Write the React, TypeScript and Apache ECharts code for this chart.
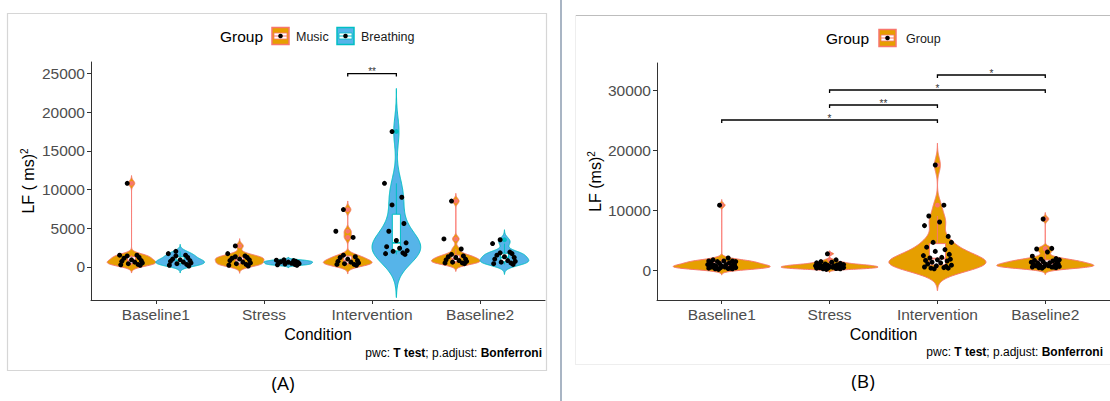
import React, { useEffect, useRef } from "react";
import * as echarts from "echarts";

const FONT = "'Liberation Sans', Arial, sans-serif";

const CONDITIONS = ["Baseline1", "Stress", "Intervention", "Baseline2"];
const GROUP_NAMES = ["Music", "Breathing"];

// LF (ms)^2 per participant
const MUSIC_BASELINE1 = [10800, 1500, 1500, 1400, 1200, 1100, 900, 800, 700, 600, 500, 400, 300, 250, 200];
const MUSIC_STRESS = [2700, 1700, 1400, 1300, 1200, 1100, 1000, 900, 800, 600, 500, 400, 300, 200, 100];
const MUSIC_INTERVENTION = [7400, 4600, 3800, 1500, 1300, 1200, 1000, 800, 700, 600, 500, 400, 300, 300, 200];
const MUSIC_BASELINE2 = [8500, 3600, 2300, 1600, 1400, 1300, 1200, 1000, 900, 800, 700, 600, 500, 500, 400];

const BREATHING_BASELINE1 = [2000, 1700, 1500, 1400, 1200, 1000, 900, 800, 700, 600, 500, 400, 300, 200, 100];
const BREATHING_STRESS = [900, 850, 800, 700, 700, 650, 600, 550, 500, 450, 400, 350, 300, 250, 200];
const BREATHING_INTERVENTION = [17500, 10800, 9000, 8000, 5600, 4600, 3400, 3100, 2600, 2400, 2100, 2000, 1800, 1700, 1600];
const BREATHING_BASELINE2 = [3500, 3000, 1900, 1800, 1700, 1500, 1300, 1200, 1000, 800, 700, 600, 500, 400, 300];

const MUSIC = [MUSIC_BASELINE1, MUSIC_STRESS, MUSIC_INTERVENTION, MUSIC_BASELINE2];
const BREATHING = [BREATHING_BASELINE1, BREATHING_STRESS, BREATHING_INTERVENTION, BREATHING_BASELINE2];

// fixed horizontal jitter (category units), hand-placed
const JITTER_A = [-0.04, -0.11, 0.05, -0.04, 0.07, -0.07, 0.0, 0.09, -0.09, 0.03, 0.1, -0.03, 0.06, -0.1, 0.08];
const JITTER_B = [-0.02, 0.06, -0.08, 0.02, -0.12, 0.1, -0.04, 0.13, -0.1, 0.07, -0.02, 0.11, -0.13, 0.04, -0.07,
  0.12, 0.0, -0.11, 0.09, -0.05, 0.03, -0.09, 0.13, -0.01, 0.08, -0.12, 0.06, -0.06, 0.1, -0.03];

const Y_TICKS_A = [0, 5000, 10000, 15000, 20000, 25000];
const Y_TICKS_B = [0, 10000, 20000, 30000];

// significance brackets
const BRACKET_A_COND = ["Intervention"];
const BRACKET_A_Y = [25000];
const BRACKET_A_LABEL = ["**"];

const BRACKET_B_FROM = ["Baseline1", "Stress", "Stress", "Intervention"];
const BRACKET_B_TO = ["Intervention", "Intervention", "Baseline2", "Baseline2"];
const BRACKET_B_Y = [25000, 27500, 30000, 32500];
const BRACKET_B_LABEL = ["*", "**", "*", "*"];

const COLORS = {
  Music: { fill: "#E69F00", line: "#F8766D" },
  Breathing: { fill: "#56B4E9", line: "#00BFC4" },
};

const DODGE = 0.225;

function sortAsc(a: number[]) {
  return [...a].sort((x, y) => x - y);
}
function quantile(s: number[], p: number) {
  const h = (s.length - 1) * p;
  const lo = Math.floor(h);
  const hi = Math.min(lo + 1, s.length - 1);
  return s[lo] + (h - lo) * (s[hi] - s[lo]);
}
function bwNrd0(v: number[]) {
  const n = v.length;
  const m = v.reduce((a, b) => a + b, 0) / n;
  const sd = Math.sqrt(v.reduce((a, b) => a + (b - m) * (b - m), 0) / (n - 1));
  const s = sortAsc(v);
  const iqr = quantile(s, 0.75) - quantile(s, 0.25);
  let lo = Math.min(sd, iqr / 1.34);
  if (!(lo > 0)) lo = sd || Math.abs(s[0]) || 1;
  return 0.9 * lo * Math.pow(n, -0.2);
}
function violinProfile(v: number[]) {
  const bw = bwNrd0(v);
  const s = sortAsc(v);
  const from = s[0] - 3 * bw;
  const to = s[s.length - 1] + 3 * bw;
  const N = 240;
  const out: number[][] = [];
  let max = 0;
  for (let i = 0; i < N; i++) {
    const y = from + ((to - from) * i) / (N - 1);
    let d = 0;
    for (const x of v) {
      const z = (y - x) / bw;
      d += Math.exp(-0.5 * z * z);
    }
    out.push([y, d]);
    if (d > max) max = d;
  }
  return out.map(([y, d]) => [y, d / max]);
}
function boxStats(v: number[]) {
  const s = sortAsc(v);
  const q1 = quantile(s, 0.25);
  const med = quantile(s, 0.5);
  const q3 = quantile(s, 0.75);
  const iqr = q3 - q1;
  const lf = q1 - 1.5 * iqr;
  const hf = q3 + 1.5 * iqr;
  const inside = s.filter((x) => x >= lf && x <= hf);
  return {
    q1, med, q3,
    wLo: inside[0],
    wHi: inside[inside.length - 1],
    outliers: s.filter((x) => x < lf || x > hf),
  };
}

type Violin = {
  x: number; values: number[]; fill: string; line: string; half: number; boxHalf: number;
  profile: number[][]; box: ReturnType<typeof boxStats>;
};

function makeViolin(x: number, values: number[], fill: string, line: string, half: number, boxHalf: number): Violin {
  return { x, values, fill, line, half, boxHalf, profile: violinProfile(values), box: boxStats(values) };
}

const VIOLINS_A: Violin[] = [];
CONDITIONS.forEach((_, c) => {
  GROUP_NAMES.forEach((g, gi) => {
    const vals = gi === 0 ? MUSIC[c] : BREATHING[c];
    const col = (COLORS as any)[g];
    VIOLINS_A.push(makeViolin(c + 1 + (gi === 0 ? -DODGE : DODGE), vals, col.fill, col.line, 0.225, 0.0375));
  });
});
const VIOLINS_B: Violin[] = CONDITIONS.map((_, c) =>
  makeViolin(c + 1, [...MUSIC[c], ...BREATHING[c]].sort((a, b) => b - a), COLORS.Music.fill, COLORS.Music.line, 0.45, 0.075)
);

function pointsFor(list: Violin[], jitter: number[]) {
  const pts: number[][] = [];
  list.forEach((v) => {
    const sorted = [...v.values].sort((a, b) => b - a);
    sorted.forEach((y, i) => pts.push([v.x + jitter[i % jitter.length], y]));
  });
  return pts;
}

const violinRender = (list: Violin[]) => (_p: any, api: any) => {
  const v = list[api.value(2)];
  const right = v.profile.map(([y, w]) => api.coord([v.x + w * v.half, y]));
  const left = v.profile.slice().reverse().map(([y, w]) => api.coord([v.x - w * v.half, y]));
  return {
    type: "polygon",
    shape: { points: right.concat(left) },
    style: { fill: v.fill, stroke: v.line, lineWidth: 1 },
  };
};

const boxRender = (list: Violin[]) => (_p: any, api: any) => {
  const v = list[api.value(2)];
  const b = v.box;
  const [xl, yq3] = api.coord([v.x - v.boxHalf, b.q3]);
  const [xr, yq1] = api.coord([v.x + v.boxHalf, b.q1]);
  const [xc, ymed] = api.coord([v.x, b.med]);
  const yLo = api.coord([v.x, b.wLo])[1];
  const yHi = api.coord([v.x, b.wHi])[1];
  const children: any[] = [
    { type: "line", shape: { x1: xc, y1: yHi, x2: xc, y2: yq3 }, style: { stroke: v.line, lineWidth: 1 } },
    { type: "line", shape: { x1: xc, y1: yq1, x2: xc, y2: yLo }, style: { stroke: v.line, lineWidth: 1 } },
    { type: "rect", shape: { x: xl, y: yq3, width: xr - xl, height: yq1 - yq3 }, style: { fill: "#fff", stroke: v.line, lineWidth: 1 } },
    { type: "line", shape: { x1: xl, y1: ymed, x2: xr, y2: ymed }, style: { stroke: v.line, lineWidth: 1.8 } },
  ];
  b.outliers.forEach((o) => {
    const p = api.coord([v.x, o]);
    children.push({ type: "circle", shape: { cx: p[0], cy: p[1], r: 2.4 }, style: { fill: v.line } });
  });
  return { type: "group", children };
};

const bracketRender = (labels: string[]) => (_p: any, api: any) => {
  const p1 = api.coord([api.value(0), api.value(2)]);
  const p2 = api.coord([api.value(1), api.value(2)]);
  const tip = 3;
  return {
    type: "group",
    children: [
      {
        type: "polyline",
        shape: { points: [[p1[0], p1[1] + tip], [p1[0], p1[1]], [p2[0], p2[1]], [p2[0], p2[1] + tip]] },
        style: { stroke: "#000", lineWidth: 1.3, fill: null },
      },
      {
        type: "text",
        x: (p1[0] + p2[0]) / 2,
        y: p1[1] + 3,
        style: { text: labels[api.value(3)], fontSize: 10, fill: "#333", align: "center", verticalAlign: "bottom", fontFamily: FONT },
      },
    ],
  };
};

function xAxisCfg(gridIndex: number) {
  return {
    type: "value", gridIndex, min: 0.4, max: 4.6,
    axisLine: { show: true, onZero: false, lineStyle: { color: "#333", width: 1 } },
    axisTick: { show: true, customValues: [1, 2, 3, 4], length: 4, lineStyle: { color: "#333" } },
    axisLabel: {
      customValues: [1, 2, 3, 4], color: "#4d4d4d", fontSize: 15.5, margin: 6, fontFamily: FONT,
      formatter: (v: number) => CONDITIONS[Math.round(v) - 1] || "",
    },
    splitLine: { show: false },
    name: "Condition", nameLocation: "middle", nameGap: 24,
    nameTextStyle: { color: "#000", fontSize: 16, fontFamily: FONT },
  };
}
function yAxisCfg(gridIndex: number, min: number, max: number, ticks: number[], name: string, gap: number) {
  return {
    type: "value", gridIndex, min, max,
    axisLine: { show: true, onZero: false, lineStyle: { color: "#333", width: 1 } },
    axisTick: { show: true, customValues: ticks, length: 4, lineStyle: { color: "#333" } },
    axisLabel: { customValues: ticks, color: "#4d4d4d", fontSize: 15.5, margin: 6, fontFamily: FONT, formatter: (v: number) => String(v) },
    splitLine: { show: false },
    name, nameLocation: "middle", nameRotate: 90, nameGap: gap,
    nameTextStyle: {
      color: "#000", fontSize: 16, fontFamily: FONT,
      rich: { sup: { fontSize: 10, fontFamily: FONT, color: "#000", padding: [0, 0, 9, 0] } },
    },
  };
}

function legendKey(x: number, y: number, fill: string, line: string) {
  return {
    type: "group", x, y,
    children: [
      { type: "rect", shape: { x: 0, y: 0, width: 17, height: 17 }, style: { fill, stroke: line, lineWidth: 1.5 } },
      { type: "rect", shape: { x: 2, y: 5.5, width: 13, height: 6 }, style: { fill: "#fff", stroke: line, lineWidth: 0.8 } },
      { type: "line", shape: { x1: 2, y1: 8.5, x2: 15, y2: 8.5 }, style: { stroke: line, lineWidth: 1 } },
      { type: "circle", shape: { cx: 8.5, cy: 8.5, r: 2.3 }, style: { fill: "#000" } },
    ],
  };
}

function caption(right: number, y: number) {
  return {
    type: "text", x: right, y,
    style: {
      text: "{n|pwc: }{b|T test}{n|; p.adjust: }{b|Bonferroni}",
      align: "right", verticalAlign: "middle",
      rich: {
        n: { fontSize: 12, fontFamily: FONT, fill: "#000" },
        b: { fontSize: 12, fontFamily: FONT, fontWeight: "bold", fill: "#000" },
      },
    },
  };
}

const catX = (name: string) => CONDITIONS.indexOf(name) + 1;

export default function App() {
  const ref = useRef<HTMLDivElement>(null);
  useEffect(() => {
    const chart = echarts.init(ref.current!, null, { renderer: "svg", width: 1110, height: 401 });
    const option: any = {
      animation: false,
      backgroundColor: "#fff",
      grid: [
        { left: 91, top: 62, width: 454, height: 238 },
        { left: 657, top: 63, width: 453, height: 237 },
      ],
      xAxis: [xAxisCfg(0), xAxisCfg(1)],
      yAxis: [
        yAxisCfg(0, -4300, 26500, Y_TICKS_A, "LF ( ms){sup|2}", 53),
        yAxisCfg(1, -5000, 34500, Y_TICKS_B, "LF (ms){sup|2}", 50),
      ],
      series: [
        {
          type: "custom", xAxisIndex: 0, yAxisIndex: 0, renderItem: violinRender(VIOLINS_A),
          data: VIOLINS_A.map((v, i) => [v.x, v.box.med, i]),
        },
        {
          type: "custom", xAxisIndex: 0, yAxisIndex: 0, renderItem: boxRender(VIOLINS_A),
          data: VIOLINS_A.map((v, i) => [v.x, v.box.med, i]),
        },
        {
          type: "scatter", xAxisIndex: 0, yAxisIndex: 0, symbolSize: 5,
          itemStyle: { color: "#000", opacity: 1 }, data: pointsFor(VIOLINS_A, JITTER_A),
        },
        {
          type: "custom", xAxisIndex: 0, yAxisIndex: 0, renderItem: bracketRender(BRACKET_A_LABEL),
          data: BRACKET_A_COND.map((c, i) => [catX(c) - DODGE, catX(c) + DODGE, BRACKET_A_Y[i], i]),
        },
        {
          type: "custom", xAxisIndex: 1, yAxisIndex: 1, renderItem: violinRender(VIOLINS_B),
          data: VIOLINS_B.map((v, i) => [v.x, v.box.med, i]),
        },
        {
          type: "custom", xAxisIndex: 1, yAxisIndex: 1, renderItem: boxRender(VIOLINS_B),
          data: VIOLINS_B.map((v, i) => [v.x, v.box.med, i]),
        },
        {
          type: "scatter", xAxisIndex: 1, yAxisIndex: 1, symbolSize: 5,
          itemStyle: { color: "#000", opacity: 1 }, data: pointsFor(VIOLINS_B, JITTER_B),
        },
        {
          type: "custom", xAxisIndex: 1, yAxisIndex: 1, renderItem: bracketRender(BRACKET_B_LABEL),
          data: BRACKET_B_FROM.map((f, i) => [catX(f), catX(BRACKET_B_TO[i]), BRACKET_B_Y[i], i]),
        },
      ],
      graphic: [
        // panel frames
        { type: "rect", shape: { x: 7.5, y: 13.5, width: 539, height: 357 }, style: { fill: null, stroke: "#d6d6d6", lineWidth: 1.2 } },
        { type: "line", shape: { x1: 575, y1: 15.5, x2: 1110, y2: 15.5 }, style: { stroke: "#bdbdbd", lineWidth: 1.2 } },
        { type: "line", shape: { x1: 575.5, y1: 15, x2: 575.5, y2: 364 }, style: { stroke: "#eeeeee", lineWidth: 1 } },
        { type: "line", shape: { x1: 575, y1: 364.5, x2: 1110, y2: 364.5 }, style: { stroke: "#eeeeee", lineWidth: 1 } },
        { type: "line", shape: { x1: 561, y1: 0, x2: 561, y2: 401 }, style: { stroke: "#a9b5c4", lineWidth: 2 } },
        // legends
        { type: "text", x: 220, y: 36, style: { text: "Group", fontSize: 15.5, fontFamily: FONT, fill: "#000", verticalAlign: "middle" } },
        legendKey(272, 27.5, COLORS.Music.fill, COLORS.Music.line),
        { type: "text", x: 296, y: 36.5, style: { text: "Music", fontSize: 12.5, fontFamily: FONT, fill: "#1a1a1a", verticalAlign: "middle" } },
        legendKey(337, 27.5, COLORS.Breathing.fill, COLORS.Breathing.line),
        { type: "text", x: 361, y: 36.5, style: { text: "Breathing", fontSize: 12.5, fontFamily: FONT, fill: "#1a1a1a", verticalAlign: "middle" } },
        { type: "text", x: 826, y: 38, style: { text: "Group", fontSize: 15.5, fontFamily: FONT, fill: "#000", verticalAlign: "middle" } },
        legendKey(879, 29.5, COLORS.Music.fill, COLORS.Music.line),
        { type: "text", x: 906, y: 38.5, style: { text: "Group", fontSize: 12.5, fontFamily: FONT, fill: "#1a1a1a", verticalAlign: "middle" } },
        // captions
        caption(542, 353),
        caption(1103, 352),
        { type: "text", x: 283, y: 383, style: { text: "(A)", fontSize: 19, fontFamily: "'Open Sans', sans-serif", fill: "#000", align: "center", verticalAlign: "middle" } },
        { type: "text", x: 863, y: 381, style: { text: "(B)", fontSize: 19, fontFamily: "'Open Sans', sans-serif", fill: "#000", align: "center", verticalAlign: "middle" } },
      ],
    };
    chart.setOption(option);
    return () => chart.dispose();
  }, []);
  return (
    <div
      ref={ref}
      style={{ position: "absolute", left: 0, top: 0, width: 1110, height: 401, background: "#fff" }}
    />
  );
}
